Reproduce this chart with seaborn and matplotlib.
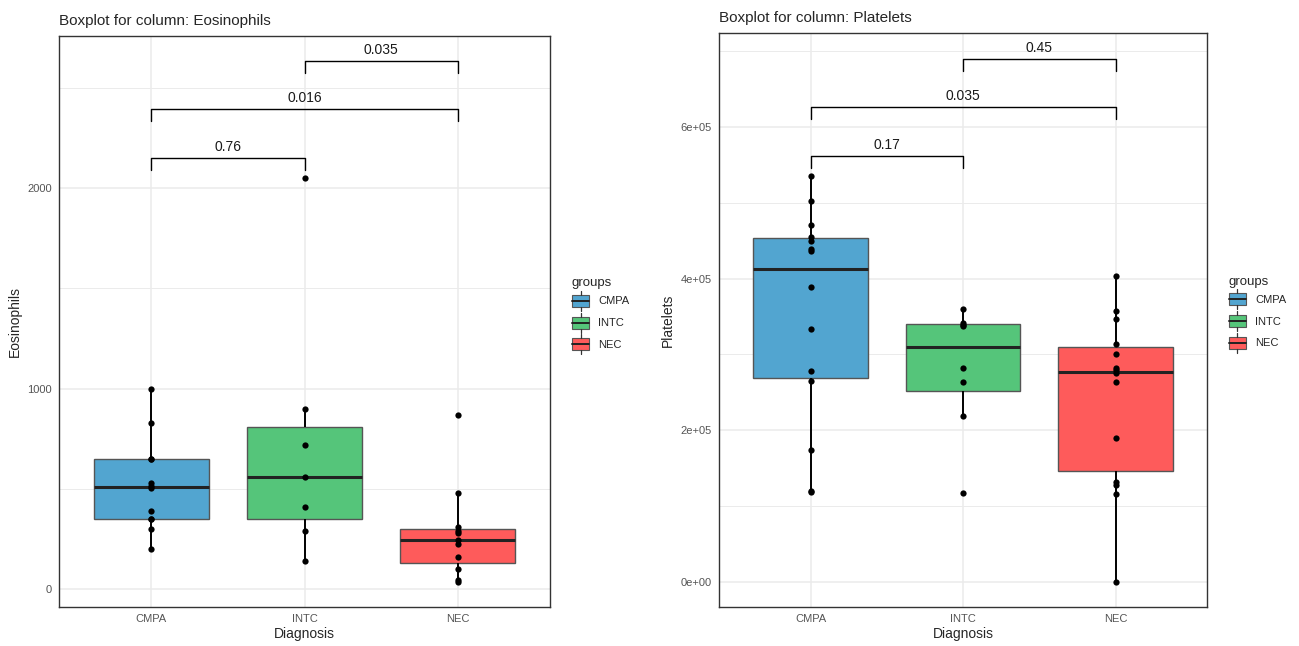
import matplotlib
matplotlib.use('Agg')
import matplotlib.pyplot as plt
import seaborn as sns
import pandas as pd
from matplotlib.legend_handler import HandlerBase
from matplotlib.patches import Rectangle
from matplotlib.lines import Line2D
from matplotlib.ticker import FuncFormatter, FixedLocator

sns.set_style('white')
plt.rcParams['font.family'] = ['Liberation Sans', 'DejaVu Sans']

groups = ['CMPA', 'INTC', 'NEC']
colors = ['#52A5D0', '#55C57A', '#FE5B5B']

# Eosinophils per group
eos_cmpa = [200, 300, 350, 350, 390, 505, 515, 530, 650, 650, 830, 1000]
eos_intc = [140, 290, 410, 560, 720, 900, 2050]
eos_nec = [35, 45, 100, 160, 225, 245, 280, 290, 310, 480, 870]

# Platelets per group
plt_cmpa = [118000, 120000, 174000, 265000, 278000, 333000, 389000, 436000,
            439000, 449000, 455000, 470000, 502000, 535000]
plt_intc = [117500, 218000, 263000, 282500, 337000, 339000, 342000, 360000]
plt_nec = [0, 116000, 127000, 132000, 189000, 263000, 275000, 279000,
           282000, 300000, 313000, 346000, 357000, 404000]

# pairwise comparisons: (group a, group b, p-value label, bracket level)
pairs = [(0, 1), (0, 2), (1, 2)]
eos_pvals = ['0.76', '0.016', '0.035']
eos_levels = [2148, 2392, 2632]
plt_pvals = ['0.17', '0.035', '0.45']
plt_levels = [562000, 625700, 689600]


def make_df(col, cmpa, intc, nec):
    return pd.DataFrame({
        'Diagnosis': ['CMPA'] * len(cmpa) + ['INTC'] * len(intc) + ['NEC'] * len(nec),
        col: cmpa + intc + nec,
    })


class BoxKey(HandlerBase):
    def create_artists(self, legend, orig_handle, xdescent, ydescent, width, height, fontsize, trans):
        x0, y0, w, h = -xdescent, -ydescent, width, height
        box = Rectangle((x0, y0 + 0.2 * h), w, 0.6 * h, facecolor=orig_handle.get_facecolor(),
                        edgecolor='#555555', lw=0.8, transform=trans)
        med = Line2D([x0, x0 + w], [y0 + 0.5 * h] * 2, color='#222222', lw=1.4, transform=trans)
        w1 = Line2D([x0 + w / 2] * 2, [y0, y0 + 0.2 * h], color='#333333', lw=0.9, transform=trans)
        w2 = Line2D([x0 + w / 2] * 2, [y0 + 0.8 * h, y0 + h], color='#333333', lw=0.9, transform=trans)
        return [box, med, w1, w2]


def draw_panel(ax, df, col, pvals, levels, tick, ylim, majors, minors, fmt):
    ax.set_axisbelow(True)
    sns.boxplot(data=df, x='Diagnosis', y=col, hue='Diagnosis', order=groups, hue_order=groups,
                palette=colors, saturation=1, width=0.75, showfliers=False, showcaps=False,
                linecolor='#555555', linewidth=1.0, legend=False,
                medianprops={'color': '#222222', 'linewidth': 2.2},
                whiskerprops={'color': 'black', 'linewidth': 1.4}, ax=ax)
    sns.stripplot(data=df, x='Diagnosis', y=col, order=groups, jitter=False, color='black',
                  size=4.5, zorder=5, ax=ax)
    for (a, b), p, lev in zip(pairs, pvals, levels):
        ax.plot([a, a, b, b], [lev - tick, lev, lev, lev - tick], color='black', lw=1.0)
        ax.text((a + b) / 2, lev + tick * 0.35, p, ha='center', va='bottom', fontsize=10, color='#1a1a1a')
    ax.set_xlim(-0.6, 2.6)
    ax.set_ylim(*ylim)
    ax.yaxis.set_major_locator(FixedLocator(majors))
    ax.yaxis.set_minor_locator(FixedLocator(minors))
    ax.yaxis.set_major_formatter(fmt)
    ax.grid(True, which='major', color='#EBEBEB', lw=1.1)
    ax.grid(True, which='minor', axis='y', color='#EBEBEB', lw=0.7)
    ax.tick_params(axis='both', which='major', length=3, width=0.8, color='#333333',
                   labelsize=8, labelcolor='#555555', pad=2)
    ax.tick_params(axis='y', which='minor', length=0)
    for s in ax.spines.values():
        s.set_color('#333333')
        s.set_linewidth(1.0)
    ax.set_xlabel('Diagnosis', fontsize=10, labelpad=2)
    ax.set_ylabel(col, fontsize=10, labelpad=4)
    ax.set_title(f'Boxplot for column: {col}', loc='left', fontsize=11, pad=8)
    handles = [Rectangle((0, 0), 1, 1, facecolor=c) for c in colors]
    leg = ax.legend(handles, groups, title='groups', handler_map={Rectangle: BoxKey()},
                    loc='center left', bbox_to_anchor=(1.035, 0.51), frameon=False, fontsize=8,
                    title_fontsize=9.5, handlelength=1.6, handleheight=2.4, labelspacing=0.15,
                    handletextpad=0.8, borderaxespad=0.0, alignment='left')
    return leg


fig = plt.figure(figsize=(12.99, 6.46), dpi=100)
ax1 = fig.add_axes([59 / 1299, 39 / 646, 491 / 1299, 571 / 646])
ax2 = fig.add_axes([719 / 1299, 39 / 646, 488 / 1299, 574 / 646])

eos_df = make_df('Eosinophils', eos_cmpa, eos_intc, eos_nec)
plt_df = make_df('Platelets', plt_cmpa, plt_intc, plt_nec)

draw_panel(ax1, eos_df, 'Eosinophils', eos_pvals, eos_levels, 60, (-88, 2757),
           [0, 1000, 2000], [500, 1500, 2500], FuncFormatter(lambda v, p: f'{v:.0f}'))
draw_panel(ax2, plt_df, 'Platelets', plt_pvals, plt_levels, 15500, (-33400, 724000),
           [0, 200000, 400000, 600000], [100000, 300000, 500000, 700000],
           FuncFormatter(lambda v, p: f'{v:.0e}'))

fig.savefig('out.png', dpi=100)
